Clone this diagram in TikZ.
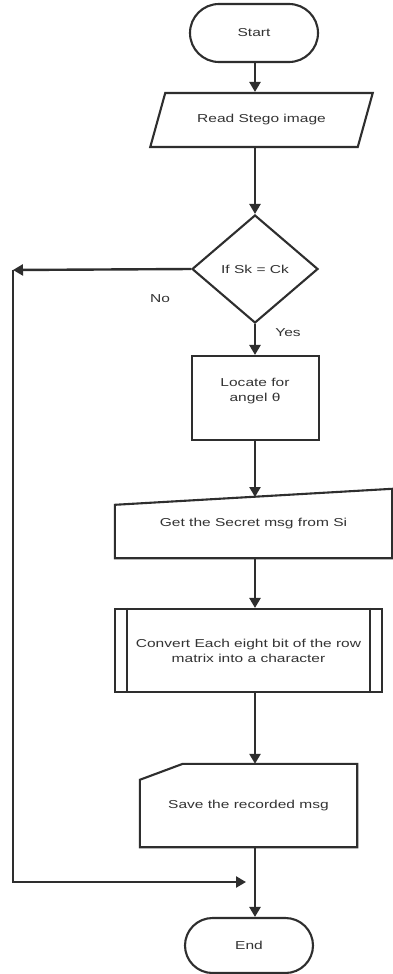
\documentclass[tikz,border=0pt]{standalone}
\usepackage{fontspec}
\setmainfont{Liberation Sans}[FakeStretch=1.35]
\usetikzlibrary{shapes.geometric,shapes.misc,arrows.meta}
\definecolor{ln}{HTML}{2E2E2E}
\definecolor{tx}{HTML}{333333}
\begin{document}
\begin{tikzpicture}[x=1pt,y=-1pt,
  every node/.style={font=\fontsize{11.5}{15}\selectfont, text=tx},
  shp/.style={draw=ln, line width=2.1pt},
  arr/.style={draw=ln, line width=2.4pt, -{Triangle[width=11pt,length=10pt]}},
  term/.style={shp, rounded rectangle, minimum width=128pt, minimum height=58pt, inner sep=0pt}
]
\useasboundingbox[fill=white] (0,0) rectangle (393,974);
% nodes
\node[term] (start) at (254,33) {Start};
\node[shp, trapezium, trapezium left angle=47, trapezium right angle=133,
      trapezium stretches=true, minimum width=223pt, minimum height=54pt, inner sep=0pt]
      (read) at (261.5,120) {Read Stego image};
\node[shp, diamond, aspect=1.167, minimum width=126pt, minimum height=108pt, inner sep=0pt]
      (dec) at (255,269) {If Sk = Ck};
\node[shp, rectangle, minimum width=127pt, minimum height=84pt, inner sep=0pt] (loc) at (255.5,398) {};
\node[align=center, inner sep=0pt] (loctxt) at (255,391) {Locate for\\angel θ};
\node[minimum width=277pt, minimum height=69pt, inner sep=0pt] (get) at (253.5,523.5) {Get the Secret msg from Si};
\draw[shp] (get.south west) -- (get.south east) -- (get.north east) -- ([yshift=-16pt]get.north west) -- cycle;
\node[shp, minimum width=267pt, minimum height=83pt, inner sep=0pt, align=center] (conv) at (248.5,650.5)
      {Convert Each eight bit of the row\\matrix into a character};
\draw[shp] ([xshift=13pt]conv.north west) -- ([xshift=13pt]conv.south west);
\draw[shp] ([xshift=-13pt]conv.north east) -- ([xshift=-13pt]conv.south east);
\node[minimum width=217pt, minimum height=83pt, inner sep=0pt] (save) at (248.5,805.5) {Save the recorded msg};
\draw[shp] ([yshift=-16pt]save.north west) -- ([xshift=43pt]save.north west) -- (save.north east)
      -- (save.south east) -- (save.south west) -- cycle;
\node[term, minimum height=55pt] (end) at (249,945.5) {End};
\node (no) at (160,299) {No};
\node (yes) at (288,333) {Yes};
\coordinate (gtop) at (255,497);
\coordinate (c1) at (13,270);
\coordinate (c2) at (246,882);
% connectors
\draw[arr] (start.south -| dec.south) -- (read.north -| dec.south);
\draw[arr] (read.south -| dec.south) -- (dec.north);
\draw[arr] (dec.south) -- (loc.north -| dec.south);
\draw[arr] (loc.south -| dec.south) -- (gtop);
\draw[arr] (get.south -| dec.south) -- (conv.north -| dec.south);
\draw[arr] (conv.south -| dec.south) -- (save.north -| dec.south);
\draw[arr] (save.south -| dec.south) -- (end.north -| dec.south);
\draw[arr] (dec.west) -- (c1);
\draw[arr] (c1) |- (c2);
\end{tikzpicture}
\end{document}
